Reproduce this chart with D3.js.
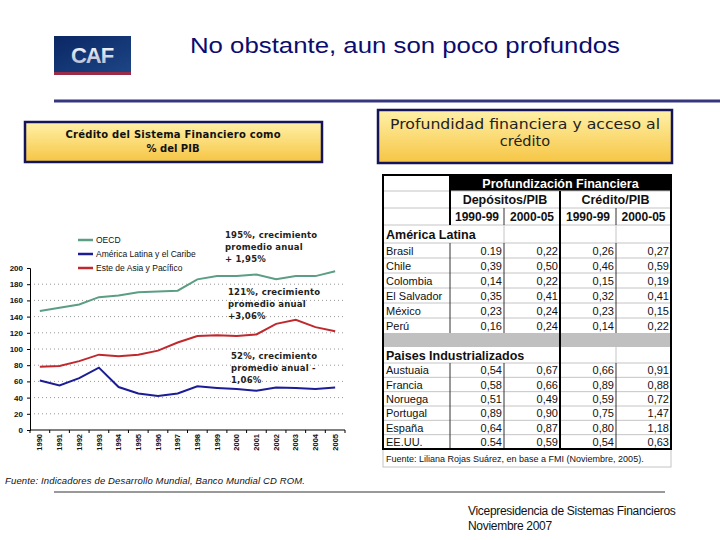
<!DOCTYPE html>
<html>
<head>
<meta charset="utf-8">
<script src="https://cdn.jsdelivr.net/npm/d3@7"></script>
<style>
  body { margin: 0; background: #fff; }
</style>
</head>
<body>
<script>
// line chart data (% of GDP)
var years = ['1990','1991','1992','1993','1994','1995','1996','1997','1998','1999','2000','2001','2002','2003','2004','2005'];
var oecd   = [147, 151, 155, 164, 166, 170, 171, 172, 186, 190, 190, 192, 186, 190, 190, 196];
var latam  = [61, 55, 64, 77, 53, 45, 42, 45, 54, 52, 50.5, 48.5, 52.5, 52, 50.5, 52.5];
var asia   = [78, 79, 85, 93, 91, 93, 98, 108, 116, 117, 116, 118, 131, 136, 127, 122];
var seriesNames = ['OECD', 'América Latina y el Caribe', 'Este de Asia y Pacífico'];
var seriesColors = ['#5b9e83', '#1c1c96', '#c0282d'];
var yTicks = [0, 20, 40, 60, 80, 100, 120, 140, 160, 180, 200];

// table data
var colGroups = ['Depósitos/PIB', 'Crédito/PIB'];
var periods = ['1990-99', '2000-05', '1990-99', '2000-05'];
var latCountries = ['Brasil', 'Chile', 'Colombia', 'El Salvador', 'México', 'Perú'];
var latValues = [
  ['0.19', '0,22', '0,26', '0,27'],
  ['0,39', '0,50', '0,46', '0,59'],
  ['0,14', '0,22', '0,15', '0,19'],
  ['0,35', '0,41', '0,32', '0,41'],
  ['0,23', '0,24', '0,23', '0,15'],
  ['0,16', '0,24', '0,14', '0,22']
];
var indCountries = ['Austuaia', 'Francia', 'Noruega', 'Portugal', 'España', 'EE.UU.'];
var indValues = [
  ['0,54', '0,67', '0,66', '0,91'],
  ['0,58', '0,66', '0,89', '0,88'],
  ['0,51', '0,49', '0,59', '0,72'],
  ['0,89', '0,90', '0,75', '1,47'],
  ['0,64', '0,87', '0,80', '1,18'],
  ['0.54', '0,59', '0,54', '0,63']
];

var sans = '"Liberation Sans", Arial, sans-serif';
var navy = '#14145a';

var svg = d3.select('body').append('svg')
  .attr('width', 720)
  .attr('height', 540);

var defs = svg.append('defs');
var yg = defs.append('linearGradient').attr('id', 'yellow').attr('x1', 0).attr('y1', 0).attr('x2', 0).attr('y2', 1);
yg.append('stop').attr('offset', '0%').attr('stop-color', '#fff1a8');
yg.append('stop').attr('offset', '100%').attr('stop-color', '#f6c544');
var bg = defs.append('linearGradient').attr('id', 'logo').attr('x1', 0).attr('y1', 0).attr('x2', 1).attr('y2', 1);
bg.append('stop').attr('offset', '0%').attr('stop-color', '#0a2763');
bg.append('stop').attr('offset', '100%').attr('stop-color', '#1d4585');
var sg = defs.append('linearGradient').attr('id', 'silver').attr('x1', 0).attr('y1', 0).attr('x2', 0).attr('y2', 1);
sg.append('stop').attr('offset', '0%').attr('stop-color', '#ffffff');
sg.append('stop').attr('offset', '100%').attr('stop-color', '#a9b3cf');

// ---- header ----
svg.append('rect').attr('x', 54).attr('y', 36).attr('width', 77).attr('height', 36).attr('fill', 'url(#logo)');
svg.append('rect').attr('x', 54).attr('y', 72).attr('width', 77).attr('height', 3).attr('fill', '#9b2c48');
svg.append('text').attr('x', 92).attr('y', 63).attr('text-anchor', 'middle')
  .attr('font-family', sans).attr('font-weight', 'bold').attr('font-size', 22)
  .attr('letter-spacing', -1).attr('fill', 'url(#silver)').text('CAF');

svg.append('text').attr('x', 190).attr('y', 53)
  .attr('font-family', sans).attr('font-size', 22.5).attr('fill', '#0c0c6e')
  .attr('textLength', 430).attr('lengthAdjust', 'spacingAndGlyphs')
  .text('No obstante, aun son poco profundos');

svg.append('line').attr('x1', 54).attr('x2', 720).attr('y1', 101).attr('y2', 101)
  .attr('stroke', '#36367e').attr('stroke-width', 3);

// yellow title boxes
svg.append('rect').attr('x', 25).attr('y', 122).attr('width', 297).attr('height', 40)
  .attr('fill', 'url(#yellow)').attr('stroke', navy).attr('stroke-width', 2.5);
svg.selectAll('text.lbox').data(['Crédito del Sistema Financiero como', '% del PIB']).enter()
  .append('text').attr('class', 'lbox')
  .attr('x', 173).attr('y', function(d, i) { return 138 + i * 14; })
  .attr('text-anchor', 'middle').attr('font-family', '"DejaVu Sans", sans-serif')
  .attr('font-weight', 'bold').attr('font-size', 10).attr('fill', '#111')
  .attr('textLength', function(d, i) { return i === 0 ? 215 : null; })
  .text(function(d) { return d; });

svg.append('rect').attr('x', 378).attr('y', 110).attr('width', 294).attr('height', 53)
  .attr('fill', 'url(#yellow)').attr('stroke', navy).attr('stroke-width', 2.5);
svg.selectAll('text.rbox').data(['Profundidad financiera y acceso al', 'crédito']).enter()
  .append('text').attr('class', 'rbox')
  .attr('x', 525).attr('y', function(d, i) { return 129 + i * 17; })
  .attr('text-anchor', 'middle').attr('font-family', '"DejaVu Sans", sans-serif')
  .attr('font-size', 14.5).attr('fill', '#222')
  .attr('textLength', function(d, i) { return i === 0 ? 270 : null; })
  .attr('lengthAdjust', 'spacingAndGlyphs')
  .text(function(d) { return d; });

// ---- line chart ----
var x = d3.scaleBand().domain(years).range([30, 345]);
var y = d3.scaleLinear().domain([0, 200]).range([430, 268]);

var chart = svg.append('g');

chart.selectAll('line.grid').data(yTicks.filter(function(d) { return d > 0 && d < 200; })).enter()
  .append('line').attr('class', 'grid')
  .attr('x1', 30).attr('x2', 345)
  .attr('y1', function(d) { return y(d); }).attr('y2', function(d) { return y(d); })
  .attr('stroke', '#999').attr('stroke-width', 1).attr('stroke-dasharray', '1,3');

var yAxis = chart.append('g').attr('transform', 'translate(30,0)')
  .call(d3.axisLeft(y).tickValues(yTicks).tickSize(3).tickPadding(4));
yAxis.select('.domain').attr('stroke', '#000');
yAxis.selectAll('text').attr('font-family', sans).attr('font-weight', 'bold').attr('font-size', 8).attr('fill', '#111');

var xAxis = chart.append('g').attr('transform', 'translate(0,430)')
  .call(d3.axisBottom(x).tickSize(0).tickPadding(0));
xAxis.select('.domain').attr('stroke', '#000').attr('d', 'M30,0H345');
xAxis.selectAll('text')
  .attr('font-family', sans).attr('font-weight', 'bold').attr('font-size', 7.5).attr('fill', '#111')
  .attr('text-anchor', 'end').attr('dy', '0.35em')
  .attr('transform', 'translate(0,4) rotate(-90)');
chart.selectAll('line.xtick').data(years.concat(['end'])).enter()
  .append('line').attr('class', 'xtick')
  .attr('x1', function(d) { return d === 'end' ? x.range()[1] : x(d); })
  .attr('x2', function(d) { return d === 'end' ? x.range()[1] : x(d); })
  .attr('y1', 430).attr('y2', 433).attr('stroke', '#000');

var line = d3.line()
  .x(function(d, i) { return x(years[i]) + x.bandwidth() / 2; })
  .y(function(d) { return y(d); });

[oecd, latam, asia].forEach(function(s, i) {
  chart.append('path').datum(s)
    .attr('d', line)
    .attr('fill', 'none')
    .attr('stroke', seriesColors[i])
    .attr('stroke-width', 2);
});

// legend
var legend = chart.selectAll('g.legend').data(seriesNames).enter()
  .append('g').attr('class', 'legend')
  .attr('transform', function(d, i) { return 'translate(78,' + (240 + i * 14) + ')'; });
legend.append('line').attr('x1', 0).attr('x2', 15).attr('y1', 0).attr('y2', 0)
  .attr('stroke', function(d, i) { return seriesColors[i]; }).attr('stroke-width', 2.5);
legend.append('text').attr('x', 18).attr('y', 3)
  .attr('font-family', sans).attr('font-size', 8.5).attr('fill', '#111')
  .text(function(d) { return d; });

// growth annotations
var notes = [
  { x: 225, y: 238, lines: ['195%, crecimiento', 'promedio anual', '+ 1,95%'] },
  { x: 228, y: 295, lines: ['121%, crecimiento', 'promedio anual', '+3,06%'] },
  { x: 231, y: 359, lines: ['52%, crecimiento', 'promedio anual -', '1,06%'] }
];
notes.forEach(function(n) {
  chart.selectAll(null).data(n.lines).enter()
    .append('text')
    .attr('x', n.x).attr('y', function(d, i) { return n.y + i * 12; })
    .attr('font-family', '"DejaVu Sans", sans-serif').attr('font-size', 8.5)
    .attr('font-weight', 'bold').attr('letter-spacing', 0.2).attr('fill', '#222')
    .text(function(d) { return d; });
});

// ---- table ----
var tbl = svg.append('g');
var tl = 383, tr = 671;
var cols = [450, 504, 560, 616, 671];
var grayLine = '#c4c4c4';

var rowTops = { h1: 175, h2: 191, h3: 208, lat: 225, latData: 243, gray: 333, ind: 347, indData: 363, end: 449 };
var latH = (rowTops.gray - rowTops.latData) / latCountries.length;
var indH = (rowTops.end - rowTops.indData) / indCountries.length;

// black header
tbl.append('rect').attr('x', cols[0]).attr('y', rowTops.h1).attr('width', tr - cols[0]).attr('height', rowTops.h2 - rowTops.h1).attr('fill', '#000');
// gray spacer row
tbl.append('rect').attr('x', tl).attr('y', rowTops.gray).attr('width', tr - tl).attr('height', rowTops.ind - rowTops.gray).attr('fill', '#c0c0c0');

// horizontal gray lines
var hLines = [rowTops.h2, rowTops.h3, rowTops.lat, rowTops.latData];
latCountries.forEach(function(c, i) { if (i > 0) hLines.push(rowTops.latData + i * latH); });
hLines.push(rowTops.indData);
indCountries.forEach(function(c, i) { if (i > 0) hLines.push(rowTops.indData + i * indH); });
tbl.selectAll('line.h').data(hLines).enter().append('line').attr('class', 'h')
  .attr('x1', tl).attr('x2', tr).attr('y1', function(d) { return d; }).attr('y2', function(d) { return d; })
  .attr('stroke', grayLine).attr('stroke-width', 1);

function vline(xp, y1, y2, color, w) {
  tbl.append('line').attr('x1', xp).attr('x2', xp).attr('y1', y1).attr('y2', y2)
    .attr('stroke', color).attr('stroke-width', w);
}
vline(cols[0], rowTops.h1, rowTops.lat, '#000', 2);
vline(cols[2], rowTops.h2, rowTops.end, '#000', 2);
vline(cols[1], rowTops.h3, rowTops.lat, '#333', 1);
vline(cols[3], rowTops.h3, rowTops.lat, '#333', 1);
vline(cols[1], rowTops.lat, rowTops.latData, grayLine, 1);
vline(cols[3], rowTops.lat, rowTops.latData, grayLine, 1);
vline(cols[0], rowTops.latData, rowTops.gray, '#333', 1);
vline(cols[1], rowTops.latData, rowTops.gray, '#333', 1);
vline(cols[3], rowTops.latData, rowTops.gray, '#333', 1);
vline(cols[3], rowTops.ind, rowTops.indData, grayLine, 1);
vline(cols[0], rowTops.indData, rowTops.end, '#333', 1);
vline(cols[1], rowTops.indData, rowTops.end, '#333', 1);
vline(cols[3], rowTops.indData, rowTops.end, '#333', 1);

// outer frames
tbl.append('rect').attr('x', tl).attr('y', rowTops.end).attr('width', tr - tl).attr('height', 18)
  .attr('fill', 'none').attr('stroke', grayLine);
tbl.append('rect').attr('x', tl).attr('y', rowTops.h1).attr('width', tr - tl).attr('height', rowTops.end - rowTops.h1)
  .attr('fill', 'none').attr('stroke', '#000').attr('stroke-width', 2);

// header texts
tbl.append('text').attr('x', (cols[0] + tr) / 2).attr('y', rowTops.h1 + 12.5).attr('text-anchor', 'middle')
  .attr('font-family', sans).attr('font-weight', 'bold').attr('font-size', 12.5).attr('fill', '#fff')
  .text('Profundización Financiera');
tbl.selectAll('text.grp').data(colGroups).enter().append('text').attr('class', 'grp')
  .attr('x', function(d, i) { return i === 0 ? (cols[0] + cols[2]) / 2 : (cols[2] + tr) / 2; })
  .attr('y', rowTops.h2 + 13).attr('text-anchor', 'middle')
  .attr('font-family', sans).attr('font-weight', 'bold').attr('font-size', 12.5).attr('fill', '#111')
  .text(function(d) { return d; });
tbl.selectAll('text.per').data(periods).enter().append('text').attr('class', 'per')
  .attr('x', function(d, i) { return (cols[i] + cols[i + 1]) / 2; })
  .attr('y', rowTops.h3 + 13).attr('text-anchor', 'middle')
  .attr('font-family', sans).attr('font-weight', 'bold').attr('font-size', 12).attr('fill', '#111')
  .text(function(d) { return d; });

// region titles
tbl.append('text').attr('x', tl + 3).attr('y', rowTops.lat + 14)
  .attr('font-family', sans).attr('font-weight', 'bold').attr('font-size', 12.5).attr('fill', '#111')
  .text('América Latina');
tbl.append('text').attr('x', tl + 3).attr('y', rowTops.ind + 13)
  .attr('font-family', sans).attr('font-weight', 'bold').attr('font-size', 12.5).attr('fill', '#111')
  .text('Paises Industrializados');

function bodyRows(names, values, top, h) {
  names.forEach(function(name, r) {
    var base = top + r * h + h / 2 + 4;
    tbl.append('text').attr('x', tl + 3).attr('y', base)
      .attr('font-family', sans).attr('font-size', 11).attr('fill', '#111').text(name);
    values[r].forEach(function(v, c) {
      tbl.append('text').attr('x', cols[c + 1] - 2).attr('y', base).attr('text-anchor', 'end')
        .attr('font-family', sans).attr('font-size', 11).attr('fill', '#111').text(v);
    });
  });
}
bodyRows(latCountries, latValues, rowTops.latData, latH);
bodyRows(indCountries, indValues, rowTops.indData, indH);

tbl.append('text').attr('x', tl + 3).attr('y', rowTops.end + 13)
  .attr('font-family', sans).attr('font-size', 9).attr('fill', '#111')
  .text('Fuente: Liliana Rojas Suárez, en base a FMI (Noviembre, 2005).');

// ---- footer ----
svg.append('text').attr('x', 5).attr('y', 484)
  .attr('font-family', sans).attr('font-style', 'italic').attr('font-size', 9.5).attr('fill', '#111')
  .attr('textLength', 300)
  .text('Fuente: Indicadores de Desarrollo Mundial, Banco  Mundial CD ROM.');
svg.append('line').attr('x1', 54).attr('x2', 665).attr('y1', 492).attr('y2', 492)
  .attr('stroke', '#333').attr('stroke-width', 1);
svg.selectAll('text.foot').data(['Vicepresidencia de Sistemas Financieros', 'Noviembre 2007']).enter()
  .append('text').attr('class', 'foot')
  .attr('x', 468).attr('y', function(d, i) { return 515 + i * 15; })
  .attr('font-family', sans).attr('font-size', 12).attr('letter-spacing', -0.3).attr('fill', '#111')
  .text(function(d) { return d; });
</script>
</body>
</html>
